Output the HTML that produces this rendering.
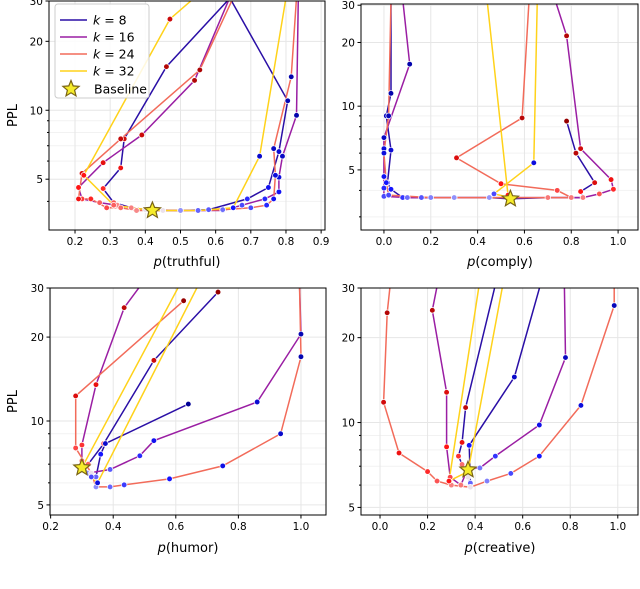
<!DOCTYPE html>
<html><head><meta charset="utf-8"><style>
body{margin:0;background:#fff;}
svg text{font-family:"DejaVu Sans","Liberation Sans",sans-serif;fill:#000;}
</style></head><body>
<svg id="chart" width="640" height="584" viewBox="0 0 640 584" xmlns="http://www.w3.org/2000/svg"></svg>
<script>
// ---- data ----
const kLabels = ["8","16","24","32"];
const kColors = ["#2a0fa6","#9a1ea3","#f26b5a","#ffd21a"];
// truthful panel
const truthK8  = [[0.65,32],[0.46,15.5],[0.34,7.5],[0.33,5.6],[0.28,4.55],[0.31,3.95],[0.36,3.75],[0.42,3.65],[0.5,3.65],[0.58,3.68],[0.69,4.1],[0.75,4.6],[0.78,6.6],[0.805,11],[0.64,31]];
const truthK16 = [[0.64,31],[0.54,13.5],[0.39,7.8],[0.28,5.9],[0.21,4.6],[0.22,4.1],[0.27,3.95],[0.32,3.85],[0.4,3.68],[0.5,3.65],[0.62,3.65],[0.675,3.85],[0.74,4.1],[0.78,4.4],[0.78,5.1],[0.79,6.3],[0.83,9.5],[0.835,31]];
const truthK24 = [[0.65,31],[0.555,15],[0.33,7.5],[0.22,5.3],[0.21,4.1],[0.245,4.1],[0.29,3.75],[0.33,3.75],[0.375,3.65],[0.45,3.65],[0.55,3.65],[0.62,3.68],[0.7,3.75],[0.745,3.85],[0.765,4.1],[0.77,5.2],[0.765,6.8],[0.815,14],[0.83,31]];
const truthK32 = [[0.55,32],[0.47,25],[0.225,5.2],[0.31,3.85],[0.42,3.65],[0.55,3.65],[0.65,3.75],[0.725,6.3],[0.8,31]];
// comply panel
const complyK8  = [[0.78,8.5],[0.82,6.0],[0.9,4.35],[0.84,3.95],[0.85,3.7],[0.7,3.7],[0.54,3.65],[0.45,3.7],[0.3,3.7],[0.16,3.7],[0.08,3.7],[0.03,4.05],[0.015,4.35],[0.03,6.2],[0.01,9],[0.03,11.5],[0.03,32]];
const complyK16 = [[0.73,32],[0.78,21.5],[0.84,6.3],[0.97,4.5],[0.98,4.05],[0.92,3.85],[0.85,3.7],[0.54,3.7],[0.3,3.7],[0.1,3.7],[0.0,3.75],[0.0,4.1],[0.0,4.65],[0.0,6.3],[0.0,7.1],[0.11,15.8],[0.08,32]];
const complyK24 = [[0.62,32],[0.59,8.8],[0.31,5.7],[0.5,4.3],[0.74,4.0],[0.8,3.7],[0.54,3.7],[0.2,3.7],[0.02,3.8],[0.01,4.35],[0.0,6.0],[0.02,9.0],[0.03,32]];
const complyK32 = [[0.44,32],[0.53,3.8],[0.54,3.7],[0.47,3.85],[0.64,5.4],[0.655,32]];
// humor panel
const humorK8  = [[0.735,29],[0.53,16.5],[0.37,8.3],[0.32,7.0],[0.30,6.8],[0.345,6.3],[0.36,7.6],[0.375,8.3],[0.64,11.5]];
const humorK16 = [[0.5,32],[0.435,25.5],[0.345,13.5],[0.3,8.2],[0.3,7.2],[0.3,6.8],[0.32,6.5],[0.39,6.7],[0.485,7.5],[0.53,8.5],[0.86,11.7],[1.0,20.5],[0.995,32]];
const humorK24 = [[0.625,27],[0.28,12.3],[0.28,8.0],[0.33,6.5],[0.345,5.8],[0.39,5.8],[0.435,5.9],[0.58,6.2],[0.75,6.9],[0.935,9.0],[1.0,17],[0.995,32]];
const humorK32 = [[0.62,32],[0.3,6.8],[0.33,6.3],[0.35,6.0],[0.68,32]];
// creative panel
const creativeK8  = [[0.49,32],[0.36,11.3],[0.345,8.5],[0.33,7.6],[0.345,7.1],[0.37,6.4],[0.38,6.1],[0.375,8.3],[0.565,14.5],[0.68,32]];
const creativeK16 = [[0.245,32],[0.22,25],[0.28,12.8],[0.28,8.2],[0.295,6.4],[0.34,6.0],[0.37,6.9],[0.42,6.9],[0.485,7.6],[0.67,9.8],[0.78,17],[0.775,32]];
const creativeK24 = [[0.045,32],[0.03,24.5],[0.015,11.8],[0.08,7.8],[0.2,6.7],[0.24,6.2],[0.3,6.0],[0.38,5.9],[0.45,6.2],[0.55,6.6],[0.67,7.6],[0.845,11.5],[0.985,26],[0.985,32]];
const creativeK32 = [[0.42,32],[0.29,6.2],[0.37,6.7],[0.52,32]];
const baselines = [[0.42,3.65],[0.54,3.65],[0.3,6.8],[0.37,6.8]];
const xTicksA = [0.2,0.3,0.4,0.5,0.6,0.7,0.8,0.9];
const xTicksB = [0.0,0.2,0.4,0.6,0.8,1.0];
const xTicksC = [0.2,0.4,0.6,0.8,1.0];
const yTicksTop = [5,10,20,30];
const yTicksBot = [5,10,20,30];

const NS="http://www.w3.org/2000/svg";
const svg=document.getElementById('chart');
function mk(tag,attrs,parent){const e=document.createElementNS(NS,tag);for(const k in attrs)e.setAttribute(k,attrs[k]);(parent||svg).appendChild(e);return e;}

const panels=[
 {name:"truthful",label:"truthful",L:49,R:325,T:1,B:230,x0:0.126,x1:0.911,y0:3.0,y1:30,xt:xTicksA,yt:yTicksTop,series:[truthK8,truthK16,truthK24,truthK32],lx:187,ly:266},
 {name:"comply",label:"comply",L:361,R:638,T:4,B:230,x0:-0.098,x1:1.085,y0:2.6,y1:30.4,xt:xTicksB,yt:yTicksTop,series:[complyK8,complyK16,complyK24,complyK32],lx:500,ly:266},
 {name:"humor",label:"humor",L:50,R:326,T:288,B:515,x0:0.198,x1:1.08,y0:4.6,y1:30,xt:xTicksC,yt:yTicksBot,series:[humorK8,humorK16,humorK24,humorK32],lx:188,ly:552},
 {name:"creative",label:"creative",L:361,R:638,T:288,B:515,x0:-0.08,x1:1.085,y0:4.7,y1:30,xt:xTicksB,yt:yTicksBot,series:[creativeK8,creativeK16,creativeK24,creativeK32],lx:500,ly:552}
];

function lerp(a,b,t){return a.map((v,i)=>Math.round(v+(b[i]-v)*t));}
function markerColor(i,m,n){
  if(i===m) return "rgb(235,225,235)";
  if(i<m){const s=(m-i)/m; return s<0.5?"rgb("+lerp([245,170,170],[255,20,20],s*2)+")":"rgb("+lerp([255,20,20],[150,0,0],(s-0.5)*2)+")";}
  const s=(i-m)/Math.max(1,n-1-m); return s<0.5?"rgb("+lerp([180,180,250],[20,20,255],s*2)+")":"rgb("+lerp([20,20,255],[0,0,150],(s-0.5)*2)+")";
}
function starPath(cx,cy,R,r){let p="";for(let i=0;i<10;i++){const a=-Math.PI/2+i*Math.PI/5;const rr=i%2?r:R;p+=(i?"L":"M")+(cx+rr*Math.cos(a)).toFixed(1)+","+(cy+rr*Math.sin(a)).toFixed(1);}return p+"Z";}

panels.forEach((p,pi)=>{
  const g=mk('g',{});
  
  
  const sx=v=>p.L+(v-p.x0)/(p.x1-p.x0)*(p.R-p.L);
  const sy=v=>p.B-(Math.log10(v)-Math.log10(p.y0))/(Math.log10(p.y1)-Math.log10(p.y0))*(p.B-p.T);
  const cid='clip'+pi;
  const cp=mk('clipPath',{id:cid},g);mk('rect',{x:p.L,y:p.T,width:p.R-p.L,height:p.B-p.T},cp);
  for(const v of [3,4,6,7,8,9]){ if(v>p.y0&&v<p.y1){const y=sy(v);
    const gl=mk('line',{x1:p.L,x2:p.R,y1:y,y2:y,stroke:"#f2f2f2","stroke-width":1},g);
    
    mk('line',{x1:p.L-2,x2:p.L,y1:y,y2:y,stroke:"#000","stroke-width":1},g);}}
  p.xt.forEach(v=>{const x=sx(v);
    const gl=mk('line',{x1:x,x2:x,y1:p.T,y2:p.B,stroke:"#e6e6e6","stroke-width":1},g);
    
    mk('line',{x1:x,x2:x,y1:p.B,y2:p.B+3.5,stroke:"#000","stroke-width":1},g);
    const t=mk('text',{x:x,y:p.B+15,"font-size":"10.5","text-anchor":"middle"},g);t.textContent=v.toFixed(1);
    });
  p.yt.forEach(v=>{const y=sy(v);
    const gl=mk('line',{x1:p.L,x2:p.R,y1:y,y2:y,stroke:"#e6e6e6","stroke-width":1},g);
    
    mk('line',{x1:p.L-3.5,x2:p.L,y1:y,y2:y,stroke:"#000","stroke-width":1},g);
    const t=mk('text',{x:p.L-6,y:y+4,"font-size":"10.5","text-anchor":"end"},g);t.textContent=String(v);
    });
  const plot=mk('g',{"clip-path":"url(#"+cid+")"},g);
  p.series.forEach((s,si)=>{
    const d=s.map((pt,i)=>(i?"L":"M")+sx(pt[0]).toFixed(1)+","+sy(pt[1]).toFixed(1)).join("");
    const path=mk('path',{d:d,fill:"none",stroke:kColors[si],"stroke-width":1.5},plot);
    
    
  });
  const b=baselines[pi];
  p.series.forEach((s,si)=>{
    let m=0,best=1e9;s.forEach((pt,i)=>{const dd=Math.abs(pt[0]-b[0])+Math.abs(Math.log10(pt[1])-Math.log10(b[1]));if(dd<best){best=dd;m=i;}});
    s.forEach((pt,i)=>{
      const c=mk('circle',{cx:sx(pt[0]),cy:sy(pt[1]),r:2.8,fill:markerColor(i,m,s.length),stroke:"#fff","stroke-width":0.7},plot);
      
      
    });
  });
  const st=mk('path',{d:starPath(sx(b[0]),sy(b[1]),8.5,3.8),fill:"#f6ec2a",stroke:"#7a6414","stroke-width":1.2},g);
  
  const fr=mk('rect',{x:p.L,y:p.T,width:p.R-p.L,height:p.B-p.T,fill:"none",stroke:"#000","stroke-width":1},g);
  
  const xl=mk('text',{x:p.lx,y:p.ly,"font-size":"13","text-anchor":"middle"},g);
  xl.innerHTML='<tspan font-style="italic">p</tspan>('+p.label+')';
  
  if(pi%2===0){const yc=(p.T+p.B)/2;
    const yl=mk('text',{x:17,y:yc,"font-size":"13","text-anchor":"middle",transform:"rotate(-90 17 "+yc+")"},g);
    yl.textContent="PPL";}
});
const lg=mk('g',{});


mk('rect',{x:55,y:4,width:94,height:94,rx:3,fill:"#fff","fill-opacity":0.85,stroke:"#ccc","stroke-width":1},lg);
kLabels.forEach((k,i)=>{const y=20+i*17;
  const e=mk('g',{},lg);
  
  
  mk('line',{x1:60,x2:87,y1:y,y2:y,stroke:kColors[i],"stroke-width":1.6},e);
  const t=mk('text',{x:93,y:y+4.5,"font-size":"12.5"},e);t.innerHTML='<tspan font-style="italic">k</tspan> = '+k;});
const be=mk('g',{},lg);


mk('path',{d:starPath(71,89,8.5,3.8),fill:"#f6ec2a",stroke:"#7a6414","stroke-width":1.2},be);
const bt=mk('text',{x:94,y:93.5,"font-size":"12.5"},be);bt.textContent="Baseline";
</script>
</body></html>
